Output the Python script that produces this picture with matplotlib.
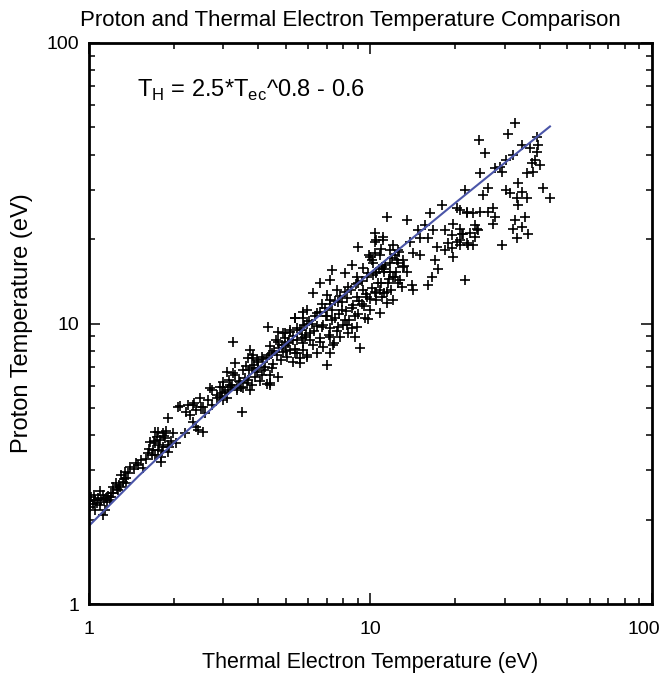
import matplotlib
matplotlib.use('Agg')
import matplotlib.pyplot as plt
from matplotlib.ticker import LogLocator, NullFormatter, FixedLocator, FixedFormatter
from matplotlib.transforms import ScaledTranslation

plt.rcParams['font.family'] = ['Liberation Sans', 'DejaVu Sans']
plt.rcParams['mathtext.fontset'] = 'custom'
plt.rcParams['mathtext.rm'] = 'Liberation Sans'

# thermal electron temperature (eV) of each measurement
t_ec = [
    2.11, 2.25, 2.34, 2.21, 2.28, 2.39, 2.50, 2.58, 1.91, 2.20,
    2.34, 2.39, 2.54, 1.72, 1.83, 1.99, 1.65, 1.72, 1.79, 1.86,
    1.69, 1.76, 1.83, 1.62, 1.72, 1.80, 1.91, 2.04, 1.91, 1.80,
    1.53, 1.49, 1.56, 1.40, 1.34, 1.30, 1.35, 1.32, 1.25, 1.22,
    1.27, 1.20, 1.29, 1.35, 1.02, 1.05, 1.08, 1.10, 1.15, 1.19,
    1.03, 1.01, 1.12, 1.20, 1.09, 1.05, 1.14, 1.12,
    2.07, 2.43, 3.50, 2.73, 2.99, 2.92, 3.17, 3.35, 3.64, 3.73,
    3.09, 4.39,
    3.25, 4.32, 4.68, 4.97, 5.18, 5.39, 5.76, 5.94, 5.71, 5.48,
    5.85, 5.08, 4.85, 4.68, 3.73, 3.82, 3.67, 3.94, 4.11, 4.28,
    4.46, 4.64, 4.89, 5.18, 5.48, 5.76, 5.31, 5.62, 5.94, 3.30,
    3.09, 3.25, 3.52, 3.79, 3.98, 4.22, 4.46, 4.68, 4.39, 4.11,
    3.88, 3.67, 3.44, 3.22, 2.99, 2.92, 2.69, 2.97, 3.11, 3.35,
    3.52, 3.79, 4.39, 2.99, 2.84, 2.48, 2.37, 2.54, 2.73,
    10.4, 11.1, 9.02, 10.5, 10.4, 9.96, 10.8, 12.0, 12.2, 11.2,
    11.7, 12.5, 12.5, 12.2, 7.30, 8.60, 8.11, 7.18, 6.62, 8.94,
    9.79, 10.5, 6.25, 7.00, 7.59, 8.30, 9.02, 9.41, 10.1, 10.8,
    11.4, 10.5, 11.4, 12.0, 9.70, 8.94, 8.23, 7.65, 7.18, 6.73,
    7.30, 7.92, 8.60, 9.33, 9.96, 10.8, 9.56, 8.81, 8.11, 7.47,
    7.00, 6.45, 5.94, 5.76, 5.39, 6.20, 6.73, 7.18, 7.65, 8.23,
    8.94, 8.30, 7.79, 7.18, 6.62, 6.10, 5.62, 5.18, 4.89, 5.31,
    5.76, 6.25, 6.79, 7.36, 4.97, 5.04, 5.39, 5.94, 6.45, 7.18,
    7.00, 8.81, 9.18, 5.62,
    24.5, 21.7, 18.0, 20.3, 22.0, 23.2, 24.5, 11.4, 13.5, 16.3,
    15.6, 14.7, 16.7, 18.4, 19.7, 20.8, 21.1, 19.5, 22.6, 23.9,
    10.4, 11.1, 13.8, 15.0, 16.0, 17.2, 18.4, 19.5, 20.8, 22.2,
    20.3, 18.9, 19.7, 11.7, 12.5, 12.4, 13.0, 14.1, 15.0, 11.7,
    11.0, 10.2, 13.0, 17.0, 17.4, 16.6, 16.0, 21.7, 10.5, 11.2,
    12.0, 12.9, 14.0, 14.1, 11.5, 10.6, 10.5, 11.2,
    32.6, 30.9, 24.3, 25.5, 39.0, 34.5, 36.9, 39.3, 32.1, 30.4,
    28.8, 27.7, 29.3, 38.4, 39.0, 37.8, 35.9, 37.5, 40.0, 26.1,
    25.1, 30.4, 31.3, 33.4, 34.5, 33.1, 35.9, 33.4, 41.0, 43.4,
    20.8, 22.0, 26.1, 27.3, 27.7, 27.3, 23.5, 24.1, 23.5, 21.3,
    20.8, 22.0, 23.2, 29.3, 33.1, 32.6, 35.4, 32.1, 34.5, 36.2,
    # denser core of the cloud
    1.04, 1.07, 1.13, 1.17, 1.22, 1.26, 1.09, 1.01, 1.16, 1.28,
    1.33, 1.38, 1.44, 1.47,
    1.64, 1.70, 1.74, 1.78, 1.82, 1.85, 1.88, 1.67, 1.59, 1.95,
    1.76, 1.93,
    3.05, 3.20, 3.40, 3.58, 3.70, 3.85, 4.00, 4.15, 4.35, 4.55,
    4.75, 3.30, 3.60, 3.95, 4.20, 4.50, 4.80, 5.00, 4.40, 3.78,
    4.62, 4.95, 3.15, 2.85, 2.65, 3.48, 4.05, 4.30, 5.10, 5.30,
    5.50, 5.80, 6.05, 6.35, 6.60, 6.90, 7.20, 7.50, 7.80, 8.10,
    8.50, 8.90, 9.30, 9.70, 5.90, 6.30, 6.80, 7.30, 7.70, 8.20,
    8.70, 9.10, 9.60, 6.10, 6.60, 7.10, 7.60, 8.00, 8.40, 9.00,
    9.50, 10.0, 5.40, 5.70, 6.45, 7.40, 8.60, 9.80, 6.95, 7.95,
    10.2, 10.7, 11.3, 11.9, 12.6, 10.9, 11.6, 12.3, 13.1, 10.4,
    11.0, 11.8, 12.7, 13.5, 10.1, 10.9, 9.40, 9.90,
]

# proton temperature (eV) of each measurement
t_h = [
    5.08, 5.12, 5.12, 4.83, 4.72, 4.92, 5.04, 4.79, 4.60, 4.06,
    4.44, 4.27, 4.09, 4.09, 4.06, 4.06, 3.77, 3.74, 3.84, 3.90,
    3.54, 3.54, 3.63, 3.45, 3.39, 3.34, 3.69, 3.74, 3.47, 3.20,
    3.26, 3.12, 3.05, 3.07, 2.95, 2.88, 2.82, 2.72, 2.70, 2.61,
    2.55, 2.48, 2.61, 2.70, 2.41, 2.35, 2.39, 2.35, 2.39, 2.35,
    2.27, 2.21, 2.45, 2.41, 2.25, 2.16, 2.16, 2.07,
    5.04, 4.17, 4.83, 5.79, 5.93, 5.47, 6.03, 5.79, 6.12, 5.79,
    5.43, 6.12,
    8.58, 9.72, 9.31, 9.23, 9.31, 10.5, 11.0, 10.0, 9.48, 8.73,
    8.95, 8.51, 8.38, 8.58, 8.05, 7.71, 7.53, 7.41, 7.60, 7.53,
    7.83, 7.71, 7.90, 8.05, 7.83, 8.05, 7.28, 7.53, 7.60, 7.22,
    6.71, 6.65, 6.83, 6.94, 6.94, 7.00, 6.94, 6.45, 6.55, 6.55,
    6.45, 6.29, 6.17, 6.03, 6.17, 5.93, 5.88, 5.64, 5.79, 5.88,
    5.88, 6.03, 6.03, 5.34, 5.43, 5.43, 5.20, 5.04, 5.12,
    21.1, 20.3, 18.8, 19.8, 17.9, 17.2, 17.5, 19.0, 17.5, 15.7,
    15.2, 16.4, 14.0, 14.7, 15.5, 16.1, 15.1, 14.3, 14.0, 14.7,
    15.1, 15.2, 12.8, 12.6, 13.2, 13.5, 14.0, 13.2, 13.4, 13.2,
    12.9, 12.1, 11.8, 12.1, 12.4, 12.4, 12.3, 11.9, 12.1, 11.7,
    11.2, 11.2, 11.4, 11.7, 11.2, 10.9, 10.5, 10.6, 10.3, 10.5,
    10.6, 10.9, 11.2, 10.5, 10.5, 10.0, 9.72, 9.63, 9.72, 9.87,
    9.72, 9.23, 8.95, 8.95, 8.87, 9.23, 9.48, 9.48, 9.23, 8.73,
    8.51, 8.38, 8.25, 8.38, 8.38, 7.60, 7.83, 7.71, 7.83, 7.83,
    7.11, 8.95, 8.18, 7.22,
    34.4, 29.9, 26.4, 25.8, 24.9, 24.7, 24.9, 24.0, 23.4, 24.7,
    22.4, 21.5, 21.5, 21.5, 22.7, 21.8, 20.9, 20.6, 21.1, 21.8,
    19.5, 19.8, 19.5, 20.1, 20.1, 18.8, 18.3, 18.6, 19.0, 19.0,
    19.5, 19.3, 17.2, 18.3, 18.3, 16.8, 16.8, 17.9, 17.5, 16.4,
    15.9, 16.4, 15.9, 16.8, 15.7, 14.7, 13.7, 14.3, 15.1, 15.2,
    14.7, 13.5, 13.7, 13.2, 14.0, 14.0, 12.8, 12.8,
    51.8, 47.3, 45.1, 40.5, 46.2, 43.2, 42.2, 43.2, 39.9, 38.3,
    36.2, 35.9, 34.6, 38.3, 40.8, 34.6, 34.4, 37.3, 36.7, 30.4,
    28.7, 29.9, 29.2, 31.6, 29.4, 28.0, 28.0, 26.4, 30.4, 28.0,
    25.4, 24.7, 24.9, 25.8, 24.0, 22.7, 22.4, 21.5, 20.3, 20.9,
    19.8, 19.3, 19.0, 19.0, 20.1, 23.4, 24.0, 21.8, 22.0, 20.9,
    # denser core of the cloud
    2.44, 2.30, 2.37, 2.43, 2.48, 2.58, 2.52, 2.33, 2.31, 2.66,
    2.78, 2.92, 3.02, 3.18,
    3.58, 3.82, 3.95, 3.68, 3.50, 3.98, 4.15, 3.40, 3.30, 3.80,
    4.10, 3.62,
    5.70, 5.95, 6.25, 6.40, 6.85, 7.10, 7.30, 7.45, 7.70, 8.00,
    8.20, 6.55, 7.05, 6.70, 6.80, 7.20, 7.40, 7.95, 8.30, 7.55,
    8.70, 8.85, 6.30, 5.55, 5.35, 5.95, 6.25, 6.10, 8.60, 9.05,
    9.60, 9.90, 10.2, 10.6, 11.0, 11.4, 11.7, 12.0, 12.5, 12.9,
    13.2, 13.8, 14.2, 14.6, 9.10, 9.40, 9.90, 10.3, 10.8, 11.1,
    11.6, 12.0, 12.7, 8.70, 8.60, 9.10, 9.40, 9.90, 10.3, 10.8,
    11.5, 12.2, 8.10, 8.90, 9.80, 8.50, 9.60, 10.4, 10.6, 11.9,
    14.9, 15.6, 16.2, 17.1, 18.0, 13.9, 14.4, 15.3, 16.0, 12.9,
    12.4, 13.2, 14.3, 15.2, 16.8, 18.4, 15.8, 17.6,
]

# fitted curve T_H = 2.5*T_ec^0.8 - 0.6
fit_x = [1.0, 1.5, 2.0, 3.0, 5.0, 8.0, 12.0, 20.0, 30.0, 43.4]
fit_y = [1.90, 2.86, 3.75, 5.42, 8.46, 12.6, 17.65, 26.9, 37.4, 50.4]

fig = plt.figure(figsize=(6.66, 6.78), dpi=100)
ax = fig.add_axes([0.1336, 0.1091, 0.8454, 0.8275])

ax.plot(t_ec, t_h, linestyle='none', marker='+', color='black',
        markersize=7.5, markeredgewidth=1.2)
ax.plot(fit_x, fit_y, color='#4a55a8', linewidth=1.5)

ax.set_xscale('log')
ax.set_yscale('log')
ax.set_xlim(1, 100)
ax.set_ylim(1, 100)

ax.xaxis.set_major_locator(FixedLocator([1, 10, 100]))
ax.xaxis.set_major_formatter(FixedFormatter(['1', '10', '100']))
ax.yaxis.set_major_locator(FixedLocator([1, 10, 100]))
ax.yaxis.set_major_formatter(FixedFormatter(['1', '10', '100']))
ax.xaxis.set_minor_locator(LogLocator(base=10, subs=range(2, 10)))
ax.yaxis.set_minor_locator(LogLocator(base=10, subs=range(2, 10)))
ax.xaxis.set_minor_formatter(NullFormatter())
ax.yaxis.set_minor_formatter(NullFormatter())

ax.tick_params(which='both', direction='in', top=True, right=True, width=1.1, labelsize=14)
ax.tick_params(which='major', length=8)
ax.tick_params(which='minor', length=4.5)
ax.tick_params(axis='x', which='major', pad=12)
ax.tick_params(axis='y', which='major', pad=7)
for s in ax.spines.values():
    s.set_linewidth(2)

# the last x label sits a little left of its tick so it stays inside the figure
lbl = ax.get_xticklabels()[-1]
lbl.set_transform(lbl.get_transform() + ScaledTranslation(-0.08, 0, fig.dpi_scale_trans))

ax.set_title('Proton and Thermal Electron Temperature Comparison', fontsize=16,
             pad=12, x=0.4636)
ax.set_xlabel('Thermal Electron Temperature (eV)', fontsize=15.5, labelpad=10)
ax.set_ylabel('Proton Temperature (eV)', fontsize=17, labelpad=10)

ax.text(0.085, 0.916, r'T$_\mathrm{H}$ = 2.5*T$_\mathrm{ec}$^0.8 - 0.6',
        transform=ax.transAxes, fontsize=17, va='center', ha='left')

fig.savefig('out.png', dpi=100)
